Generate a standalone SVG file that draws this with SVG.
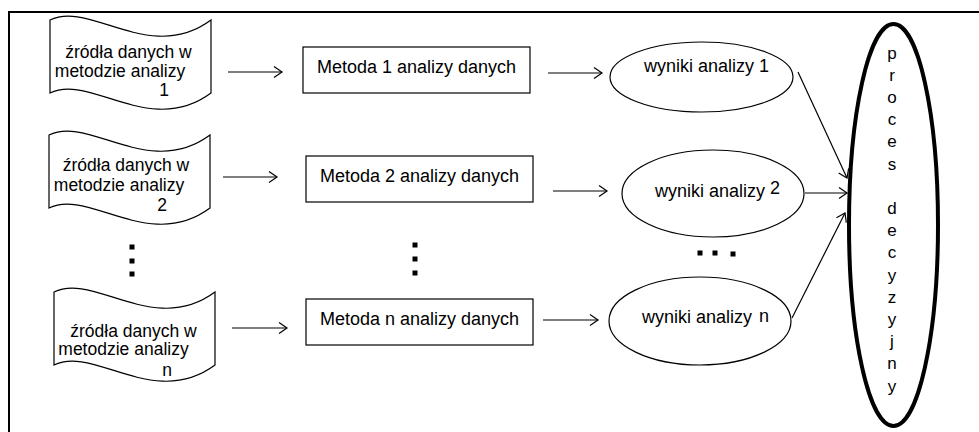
<svg xmlns="http://www.w3.org/2000/svg" width="979" height="432" viewBox="0 0 979 432">
<style>
  .t { font-family: "Liberation Sans", Arial, sans-serif; fill: #000; }
  .doc { font-size: 17.5px; }
  .m { font-size: 18px; }
  .shape { fill: #fff; stroke: #000; stroke-width: 1.2; }
  .conn line { stroke: #000; stroke-width: 1.2; marker-end: url(#ah); }
  .dot { fill: #000; }
</style>
<defs>
  <marker id="ah" markerUnits="userSpaceOnUse" markerWidth="12" markerHeight="14" viewBox="-10 -7 12 14" refX="0" refY="0" orient="auto">
    <path d="M-8,-5.5 L0,0 L-8,5.5" fill="none" stroke="#000" stroke-width="1.2"/>
  </marker>
  <path id="docshape" d="M0,0 C40,-20 100,45 161,0 L161,73 C100,118 40,53 0,73 Z"/>
</defs>
<rect width="979" height="432" fill="#fff"/>
<g id="frame">
  <path d="M9,432 L9,12 L979,12" fill="none" stroke="#000" stroke-width="2"/>
</g>

<g id="src1">
  <use href="#docshape" class="shape" transform="translate(50,20)"/>
  <text class="t doc" text-anchor="middle"><tspan x="128.5" y="58">źródła danych w</tspan><tspan x="120" y="77">metodzie analizy</tspan><tspan x="164" y="96">1</tspan></text>
</g>
<g id="src2">
  <use href="#docshape" class="shape" transform="translate(49,135)"/>
  <text class="t doc" text-anchor="middle"><tspan x="126" y="171">źródła danych w</tspan><tspan x="119" y="191">metodzie analizy</tspan><tspan x="162" y="211">2</tspan></text>
</g>
<g id="srcn">
  <use href="#docshape" class="shape" transform="translate(54,292)"/>
  <text class="t doc" text-anchor="middle"><tspan x="133.5" y="337">źródła danych w</tspan><tspan x="123.5" y="355">metodzie analizy</tspan></text>
  <text class="t doc" x="167" y="376" text-anchor="middle">n</text>
</g>
<g id="dots-src">
  <rect class="dot" x="129.5" y="244.5" width="5" height="5"/>
  <rect class="dot" x="129.5" y="258.5" width="5" height="5"/>
  <rect class="dot" x="129.5" y="271.5" width="5" height="5"/>
</g>

<g id="met1">
  <rect class="shape" x="303" y="47" width="227" height="46"/>
  <text class="t m" x="416.5" y="73" text-anchor="middle">Metoda 1 analizy danych</text>
</g>
<g id="met2">
  <rect class="shape" x="306" y="156" width="227" height="46"/>
  <text class="t m" x="419.5" y="182" text-anchor="middle">Metoda 2 analizy danych</text>
</g>
<g id="metn">
  <rect class="shape" x="306" y="299" width="227" height="46"/>
  <text class="t m" x="419.5" y="325" text-anchor="middle">Metoda n analizy danych</text>
</g>
<g id="dots-met">
  <rect class="dot" x="412.5" y="242.5" width="5" height="5"/>
  <rect class="dot" x="412.5" y="256.5" width="5" height="5"/>
  <rect class="dot" x="412.5" y="270.5" width="5" height="5"/>
</g>

<g id="res1">
  <ellipse class="shape" cx="701.5" cy="77" rx="91.5" ry="35"/>
  <text class="t m" x="706.5" y="72" text-anchor="middle">wyniki analizy 1</text>
</g>
<g id="res2">
  <ellipse class="shape" cx="713" cy="193.5" rx="91" ry="43.5"/>
  <text class="t m" x="655" y="197">wyniki analizy <tspan dy="-3">2</tspan></text>
</g>
<g id="resn">
  <ellipse class="shape" cx="700" cy="321" rx="91" ry="44"/>
  <text class="t m" x="642" y="323">wyniki analizy <tspan dx="2" dy="-1">n</tspan></text>
</g>
<g id="dots-res">
  <rect class="dot" x="697.5" y="250.5" width="5" height="5"/>
  <rect class="dot" x="712.5" y="250.5" width="5" height="5"/>
  <rect class="dot" x="730.5" y="251.5" width="5" height="5"/>
</g>

<g id="decision">
  <ellipse cx="893.5" cy="225" rx="44.5" ry="201" fill="#fff" stroke="#000" stroke-width="4"/>
  <text class="t" font-size="17" text-anchor="middle"><tspan x="892" y="58.5">p</tspan><tspan x="892" y="80.7">r</tspan><tspan x="892" y="102.9">o</tspan><tspan x="892" y="125.1">c</tspan><tspan x="892" y="147.3">e</tspan><tspan x="892" y="169.5">s</tspan><tspan x="892" y="213.9">d</tspan><tspan x="892" y="236.1">e</tspan><tspan x="892" y="258.3">c</tspan><tspan x="892" y="280.5">y</tspan><tspan x="892" y="302.7">z</tspan><tspan x="892" y="324.9">y</tspan><tspan x="892" y="347.1">j</tspan><tspan x="892" y="369.3">n</tspan><tspan x="892" y="391.5">y</tspan></text>
</g>

<g id="connectors" class="conn">
  <line x1="228" y1="72" x2="282" y2="72"/>
  <line x1="223" y1="177" x2="277" y2="177"/>
  <line x1="232" y1="328" x2="287" y2="328"/>
  <line x1="548" y1="73" x2="602" y2="73"/>
  <line x1="553" y1="191" x2="607" y2="191"/>
  <line x1="543" y1="320" x2="598" y2="320"/>
  <line x1="798" y1="72" x2="847" y2="178"/>
  <line x1="805" y1="193" x2="847" y2="193"/>
  <line x1="792" y1="318" x2="845" y2="213"/>
</g>
</svg>
